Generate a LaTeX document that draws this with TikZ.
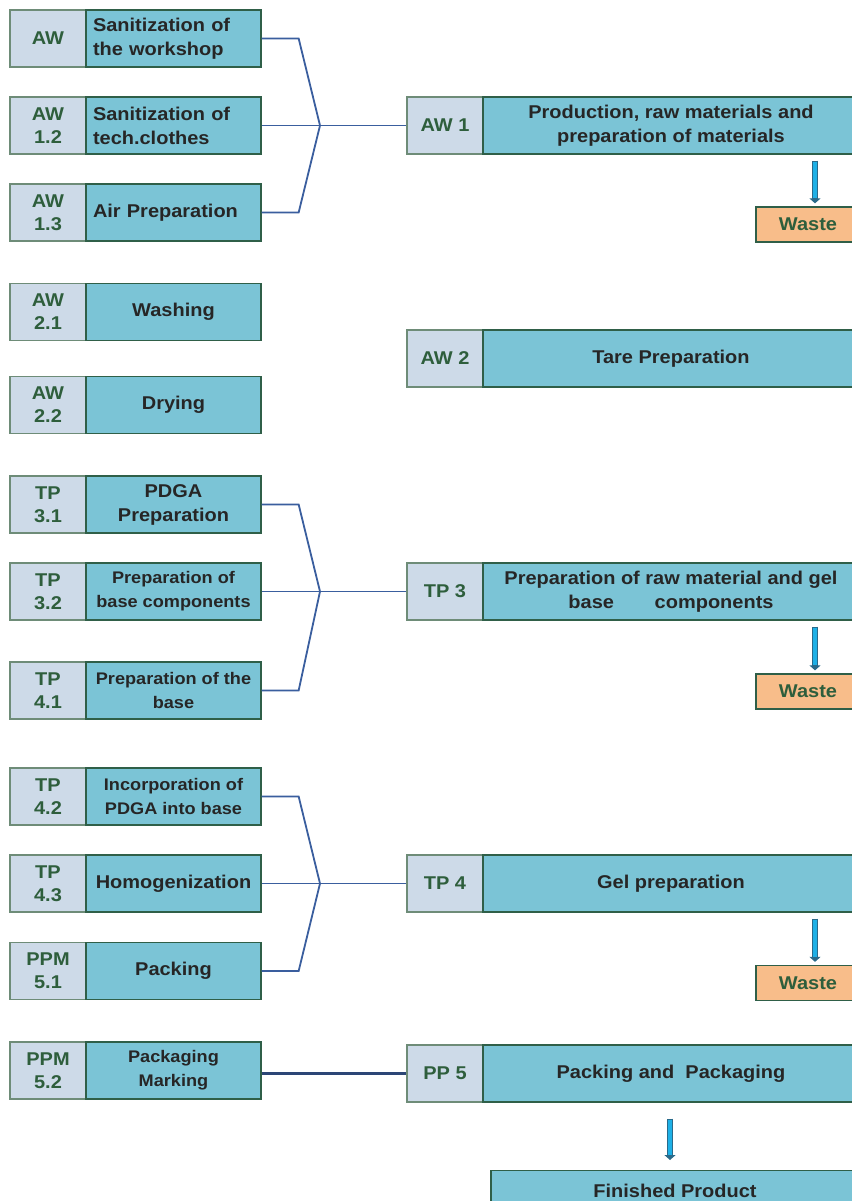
\documentclass[tikz,border=0pt]{standalone}
\usepackage{fontspec}
\setmainfont{Liberation Sans}
\newfontfamily\dfont[FakeStretch=1.08]{Liberation Sans}
\usetikzlibrary{arrows.meta,calc}
\definecolor{codefill}{HTML}{CDDAE8}
\definecolor{codeline}{HTML}{6E8C78}
\definecolor{codetext}{HTML}{2E5E3C}
\definecolor{mainfill}{HTML}{7BC4D6}
\definecolor{mainline}{HTML}{2F5F48}
\definecolor{wastefill}{HTML}{F8BD8A}
\definecolor{conn}{HTML}{3A5E9E}
\definecolor{arrowc}{HTML}{1EB0E6}
\definecolor{arrowdark}{HTML}{2A6A8A}
\newcommand{\bigtx}{\dfont\bfseries\fontsize{18.5}{24}\selectfont}
\newcommand{\smalltx}{\dfont\bfseries\fontsize{16.8}{23}\selectfont}
\tikzset{
  codebox/.style={draw=codeline, fill=codefill, line width=1.3pt, minimum width=76pt, minimum height=57pt, inner sep=0pt, align=center, text=codetext, font=\dfont\bfseries\fontsize{18.5}{23}\selectfont},
  mainbox/.style={draw=mainline, fill=mainfill, line width=1.3pt, minimum height=57pt, inner sep=1pt, align=center, text=black!85, font=\bigtx},
  leftmain/.style={mainbox, minimum width=175pt},
  leftpad/.style={inner xsep=7pt, text width=161pt},
  rightmain/.style={mainbox, minimum width=376pt},
  wastebox/.style={draw=mainline, fill=wastefill, line width=1.3pt, minimum width=104pt, minimum height=35pt, inner sep=0pt, text=codetext, font=\dfont\bfseries\fontsize{18.5}{20}\selectfont},
  link/.style={draw=conn, line width=1.8pt},
  thicklink/.style={draw=conn!75!black, line width=3.2pt},
  downarrow/.style={draw=arrowdark, line width=6pt, -{Triangle[length=5pt,width=11pt]},
    postaction={draw=arrowc, line width=3.4pt, -, shorten >=5pt, shorten <=1.2pt}},
}
\newcommand{\leftpair}[5][]{%
  \node[codebox] (#2c) at (48,-#3) {#4};
  \node[leftmain, #1] (#2m) at (173.5,-#3) {#5};
}
\newcommand{\rightpair}[4]{%
  \node[codebox] (#1c) at (445,-#2) {#3};
  \node[rightmain] (#1m) at (671,-#2) {#4};
}
\begin{document}
\begin{tikzpicture}[x=1pt,y=1pt]
\useasboundingbox (0,0) rectangle (851,-1201);
% left column
\leftpair[leftpad, align=left]{a}{38.5}{AW}{Sanitization of\\the workshop}
\leftpair[leftpad, align=left]{b}{125.5}{AW\\1.2}{Sanitization of\\tech.clothes}
\leftpair[leftpad, align=left]{c}{212.5}{AW\\1.3}{Air Preparation}
\leftpair{d}{312}{AW\\2.1}{Washing}
\leftpair{e}{405}{AW\\2.2}{Drying}
\leftpair{f}{504.5}{TP\\3.1}{PDGA\\Preparation}
\leftpair{g}{591.5}{TP\\3.2}{\smalltx Preparation of\\\smalltx base components}
\leftpair{h}{690.5}{TP\\4.1}{\smalltx Preparation of the\\\smalltx base}
\leftpair{i}{796.5}{TP\\4.2}{\smalltx Incorporation of\\\smalltx PDGA into base}
\leftpair{j}{883.5}{TP\\4.3}{Homogenization}
\leftpair{k}{971}{PPM\\5.1}{Packing}
\leftpair{l}{1070.5}{PPM\\5.2}{\smalltx Packaging\\\smalltx Marking}
% right column
\rightpair{A}{125.5}{AW 1}{Production, raw materials and\\preparation of materials}
\rightpair{B}{358.5}{AW 2}{Tare Preparation}
\rightpair{C}{591.5}{TP 3}{Preparation of raw material and gel\\base\hspace{2.2em}components}
\rightpair{D}{883.5}{TP 4}{Gel preparation}
\rightpair{E}{1073.5}{PP 5}{Packing and~~Packaging}
% waste boxes
\node[wastebox] (W1) at (808,-224.5) {Waste};
\node[wastebox] (W2) at (808,-691.5) {Waste};
\node[wastebox] (W3) at (808,-983) {Waste};
\node[mainbox, minimum width=368pt, minimum height=40pt, anchor=north, font=\bigtx] (F) at (675,-1170) {Finished Product};
% junctions
\coordinate (j1) at (320,-125.5);
\coordinate (j2) at (320,-591.5);
\coordinate (j3) at (320,-883.5);
% connectors group 1
\draw[link] (am.east) -- ([xshift=37pt]am.east) -- (j1);
\draw[link] (cm.east) -- ([xshift=37pt]cm.east) -- (j1);
\draw[link] (bm.east) -- (Ac.west);
% group 2
\draw[link] (fm.east) -- ([xshift=37pt]fm.east) -- (j2);
\draw[link] (hm.east) -- ([xshift=37pt]hm.east) -- (j2);
\draw[link] (gm.east) -- (Cc.west);
% group 3
\draw[link] (im.east) -- ([xshift=37pt]im.east) -- (j3);
\draw[link] (km.east) -- ([xshift=37pt]km.east) -- (j3);
\draw[link] (jm.east) -- (Dc.west);
% PP5
\draw[thicklink] (lm.east |- Ec.west) -- (Ec.west);
% down arrows
\draw[downarrow] ([xshift=7pt]W1.north |- Am.south) ++(0,-6) -- ([xshift=7pt,yshift=3pt]W1.north);
\draw[downarrow] ([xshift=7pt]W2.north |- Cm.south) ++(0,-6) -- ([xshift=7pt,yshift=3pt]W2.north);
\draw[downarrow] ([xshift=7pt]W3.north |- Dm.south) ++(0,-6) -- ([xshift=7pt,yshift=3pt]W3.north);
\draw[downarrow] ([xshift=-5pt]F.north |- Em.south) ++(0,-16) -- ([xshift=-5pt,yshift=10pt]F.north);
\end{tikzpicture}
\end{document}
